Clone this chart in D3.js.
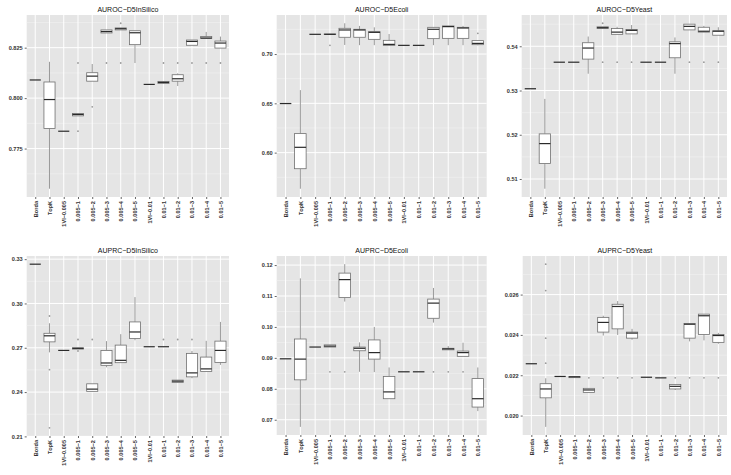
<!DOCTYPE html>
<html><head><meta charset="utf-8">
<script src="https://cdn.jsdelivr.net/npm/d3@7"></script>
<style>body{margin:0;background:#fff}svg{display:block}text{font-family:"Liberation Sans",Arial,sans-serif}</style>
</head><body><svg id="c" width="731" height="475"></svg>
<script>
const categories = ["Borda","TopK","1VI\u22120.005","0.005\u22121","0.005\u22122","0.005\u22123","0.005\u22124","0.005\u22125","1VI\u22120.01","0.01\u22121","0.01\u22122","0.01\u22123","0.01\u22124","0.01\u22125"];

// [lower whisker, Q1, median, Q3, upper whisker]
const aurocInSilico = [
 [0.809,0.809,0.809,0.809,0.809],[0.7551,0.785,0.7993,0.808,0.818],[0.7836,0.7836,0.7836,0.7836,0.7836],
 [0.7912,0.7912,0.7919,0.7924,0.7924],[0.8084,0.8084,0.8109,0.8126,0.8169],[0.8323,0.8323,0.833,0.8338,0.8338],
 [0.8338,0.8338,0.8344,0.8348,0.8348],[0.8174,0.8265,0.8324,0.8334,0.8334],[0.8068,0.8068,0.8068,0.8068,0.8068],
 [0.8073,0.8073,0.8078,0.8083,0.8083],[0.806,0.8084,0.8096,0.8116,0.8123],[0.8262,0.8262,0.8281,0.8288,0.8288],
 [0.8296,0.8296,0.8298,0.8305,0.8328],[0.8248,0.8248,0.8273,0.8283,0.8305]];
const aurocInSilicoOut = [[],[],[],[0.8174,0.7836],[0.7957],[0.8174],[0.8371,0.8174],[],[],[0.8174],[0.8174],[0.8174],[0.8174],[0.8174]];

const aurocEcoli = [
 [0.6498,0.6498,0.6498,0.6498,0.6498],[0.5634,0.5837,0.6054,0.6193,0.6634],[0.72,0.72,0.72,0.72,0.72],
 [0.72,0.72,0.72,0.7203,0.7203],[0.7092,0.717,0.7244,0.7261,0.7312],[0.709,0.717,0.7244,0.7251,0.7285],
 [0.709,0.7149,0.722,0.7227,0.7271],[0.7088,0.7088,0.7098,0.7139,0.7203],[0.7088,0.7088,0.7088,0.7088,0.7088],
 [0.7088,0.7088,0.7088,0.7088,0.7088],[0.709,0.7156,0.7251,0.7271,0.7271],[0.709,0.7159,0.7278,0.7285,0.7285],
 [0.709,0.7159,0.7264,0.7271,0.7285],[0.7088,0.7095,0.7108,0.7136,0.7136]];
const aurocEcoliOut = [[],[],[],[0.7088],[],[],[],[],[],[],[],[],[],[0.721]];

const aurocYeast = [
 [0.5304,0.5304,0.5304,0.5304,0.5304],[0.5078,0.5135,0.518,0.5202,0.5281],[0.5364,0.5364,0.5364,0.5364,0.5364],
 [0.5364,0.5364,0.5364,0.5364,0.5364],[0.5338,0.5371,0.5396,0.5408,0.5422],[0.544,0.544,0.5442,0.5444,0.5444],
 [0.5427,0.5427,0.5432,0.544,0.5444],[0.5428,0.5428,0.5436,0.5438,0.5448],[0.5364,0.5364,0.5364,0.5364,0.5364],
 [0.5364,0.5364,0.5364,0.5364,0.5364],[0.5338,0.5374,0.5406,0.541,0.542],[0.5437,0.5437,0.5445,0.545,0.545],
 [0.5432,0.5432,0.5434,0.5443,0.5446],[0.5425,0.5425,0.5434,0.5435,0.5443]];
const aurocYeastOut = [[],[],[],[],[],[0.5452,0.5364],[0.5364],[0.5364],[],[],[],[0.5364],[0.5364],[0.5364]];

const auprcInSilico = [
 [0.3266,0.3266,0.3266,0.3266,0.3266],[0.2669,0.274,0.2781,0.2798,0.2866],[0.2682,0.2682,0.2682,0.2682,0.2682],
 [0.2691,0.2691,0.2696,0.27,0.27],[0.2405,0.2405,0.242,0.2456,0.2456],[0.2568,0.2581,0.2597,0.2682,0.2745],
 [0.2599,0.2599,0.2615,0.2718,0.2792],[0.2751,0.2763,0.2807,0.2875,0.3043],[0.2707,0.2707,0.2707,0.2707,0.2707],
 [0.2707,0.2707,0.2707,0.2707,0.2707],[0.2465,0.2465,0.2474,0.2481,0.2481],[0.2494,0.2503,0.253,0.2662,0.2678],
 [0.2539,0.2539,0.2557,0.2637,0.2747],[0.2584,0.2601,0.2682,0.2745,0.2875]];
const auprcInSilicoOut = [[],[0.2915,0.2552,0.2158],[],[0.2756,0.2678],[0.2756],[],[],[],[],[0.2756],[0.2756],[0.2756],[],[]];

const auprcEcoli = [
 [0.0897,0.0897,0.0897,0.0897,0.0897],[0.0677,0.0829,0.0896,0.0961,0.1157],[0.0935,0.0935,0.0935,0.0935,0.0935],
 [0.0935,0.0935,0.0938,0.0942,0.0942],[0.1082,0.1095,0.1153,0.1174,0.1203],[0.0855,0.0923,0.0931,0.0935,0.095],
 [0.0854,0.0896,0.0917,0.0958,0.1],[0.0768,0.0768,0.079,0.084,0.0869],[0.0855,0.0855,0.0855,0.0855,0.0855],
 [0.0855,0.0855,0.0855,0.0855,0.0855],[0.1014,0.1028,0.1077,0.109,0.1126],[0.0926,0.0926,0.0929,0.0931,0.0938],
 [0.0905,0.0905,0.0917,0.0922,0.0949],[0.0728,0.0741,0.0768,0.0833,0.0869]];
const auprcEcoliOut = [[],[],[],[0.0855],[0.0855],[],[],[],[],[],[0.0855],[0.0855],[0.0855],[]];

const auprcYeast = [
 [0.02257,0.02257,0.02257,0.02257,0.02257],[0.01944,0.02088,0.02132,0.02158,0.02185],[0.02194,0.02194,0.02194,0.02194,0.02194],
 [0.02188,0.02188,0.02192,0.02194,0.02194],[0.02115,0.02115,0.02127,0.02135,0.02135],[0.02397,0.02414,0.02462,0.02487,0.02495],
 [0.024,0.0243,0.02541,0.02552,0.02568],[0.02376,0.02384,0.02409,0.02414,0.0243],[0.0219,0.0219,0.0219,0.0219,0.0219],
 [0.02187,0.02187,0.02187,0.02187,0.02187],[0.02127,0.02132,0.02145,0.02154,0.02154],[0.02368,0.02384,0.02453,0.02457,0.02457],
 [0.02373,0.02402,0.02495,0.02503,0.02503],[0.02356,0.02363,0.02397,0.02402,0.0241]];
const auprcYeastOut = [[],[0.02751,0.0262,0.02384,0.0226],[],[],[0.02187],[0.02187],[0.02187],[0.02187],[],[],[0.02187],[0.02187],[0.02187],[0.02187]];

const titles = ["AUROC\u2212D5InSilico","AUROC\u2212D5Ecoli","AUROC\u2212D5Yeast","AUPRC\u2212D5InSilico","AUPRC\u2212D5Ecoli","AUPRC\u2212D5Yeast"];
const tickValues = [[0.775,0.800,0.825],[0.60,0.65,0.70],[0.51,0.52,0.53,0.54],[0.21,0.24,0.27,0.30,0.33],[0.07,0.08,0.09,0.10,0.11,0.12],[0.020,0.022,0.024,0.026]];
const tickFormats = [".3f",".2f",".2f",".2f",".2f",".3f"];

const panels = [
 {stats:aurocInSilico, out:aurocInSilicoOut, x0:26.7,x1:229,y0:15,y1:197},
 {stats:aurocEcoli, out:aurocEcoliOut, x0:276.7,x1:486.7,y0:15,y1:197},
 {stats:aurocYeast, out:aurocYeastOut, x0:521.7,x1:727,y0:15,y1:197},
 {stats:auprcInSilico, out:auprcInSilicoOut, x0:26.7,x1:229,y0:256,y1:436},
 {stats:auprcEcoli, out:auprcEcoliOut, x0:276.7,x1:486.7,y0:256,y1:435},
 {stats:auprcYeast, out:auprcYeastOut, x0:522.7,x1:727,y0:256,y1:435}
];

const svg = d3.select("#c");
panels.forEach((p,i)=>{
  const g = svg.append("g");
  const all = p.stats.flat().concat(p.out.flat());
  const mn = d3.min(all), mx = d3.max(all), pad=(mx-mn)*0.05;
  const y = d3.scaleLinear().domain([mn-pad,mx+pad]).range([p.y1,p.y0]);
  const x = d3.scalePoint().domain(categories).range([p.x0,p.x1]).padding(0.6);
  const step = x.step(), bw = step*0.78;
  g.append("rect").attr("x",p.x0).attr("y",p.y0).attr("width",p.x1-p.x0).attr("height",p.y1-p.y0).attr("fill","#e5e5e5");
  const tv = tickValues[i];
  const dt = tv[1]-tv[0];
  const minor = [tv[0]-dt/2].concat(tv.map(t=>t+dt/2)).filter(v=>y(v)>=p.y0&&y(v)<=p.y1);
  g.selectAll(".mn").data(minor).enter().append("line").attr("x1",p.x0).attr("x2",p.x1)
    .attr("y1",d=>y(d)).attr("y2",d=>y(d)).attr("stroke","#f2f2f2").attr("stroke-width",0.6);
  g.selectAll(".mj").data(tv).enter().append("line").attr("x1",p.x0).attr("x2",p.x1)
    .attr("y1",d=>y(d)).attr("y2",d=>y(d)).attr("stroke","#fff").attr("stroke-width",1);
  g.selectAll(".vg").data(categories).enter().append("line").attr("y1",p.y0).attr("y2",p.y1)
    .attr("x1",d=>x(d)).attr("x2",d=>x(d)).attr("stroke","#fff").attr("stroke-width",1);
  const ya = d3.axisLeft(y).tickValues(tv).tickFormat(d3.format(tickFormats[i])).tickSize(2).tickPadding(2);
  const yg = g.append("g").attr("transform",`translate(${p.x0},0)`).call(ya);
  yg.select(".domain").remove();
  yg.selectAll("line").attr("stroke","#666");
  yg.selectAll("text").attr("font-size",5.6).attr("font-weight","bold").attr("fill","#333");
  const xa = d3.axisBottom(x).tickSize(2).tickPadding(2);
  const xg = g.append("g").attr("transform",`translate(0,${p.y1})`).call(xa);
  xg.select(".domain").remove();
  xg.selectAll("line").attr("stroke","#666");
  xg.selectAll("text").attr("font-size",5.6).attr("font-weight","bold").attr("fill","#333")
    .attr("transform","rotate(-90)").attr("text-anchor","end").attr("dy","0.35em").attr("x",-4).attr("y",0);
  g.append("text").attr("x",(p.x0+p.x1)/2).attr("y",p.y0-3.5).attr("text-anchor","middle")
    .attr("font-size",7).attr("fill","#111").text(titles[i]);
  categories.forEach((c,k)=>{
    const s = p.stats[k], cx = x(c);
    g.append("line").attr("x1",cx).attr("x2",cx).attr("y1",y(s[4])).attr("y2",y(s[3])).attr("stroke","#808080").attr("stroke-width",0.8);
    g.append("line").attr("x1",cx).attr("x2",cx).attr("y1",y(s[1])).attr("y2",y(s[0])).attr("stroke","#808080").attr("stroke-width",0.8);
    g.append("rect").attr("x",cx-bw/2).attr("width",bw).attr("y",y(s[3])).attr("height",Math.max(0,y(s[1])-y(s[3])))
      .attr("fill","#fff").attr("stroke","#707070").attr("stroke-width",0.8);
    g.append("line").attr("x1",cx-bw/2).attr("x2",cx+bw/2).attr("y1",y(s[2])).attr("y2",y(s[2])).attr("stroke","#2a2a2a").attr("stroke-width",1.2);
    p.out[k].forEach(v=>{
      g.append("circle").attr("cx",cx).attr("cy",y(v)).attr("r",0.9).attr("fill","#9a9a9a");
    });
  });
});
</script></body></html>
